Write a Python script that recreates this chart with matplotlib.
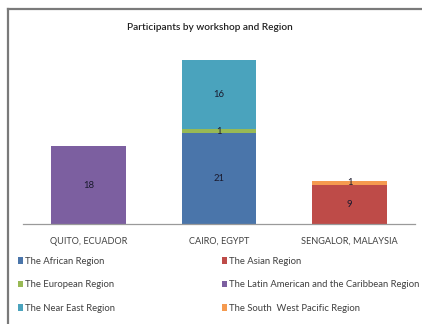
import matplotlib
matplotlib.use("Agg")
import matplotlib.pyplot as plt
from matplotlib.lines import Line2D
from matplotlib.patches import Patch
import numpy as np

categories = ["QUITO, ECUADOR", "CAIRO, EGYPT", "SENGALOR, MALAYSIA"]
series_names = ["The African Region", "The Asian Region", "The European Region",
                "The Latin American and the Caribbean Region", "The Near East Region",
                "The South  West Pacific Region"]
african = [0, 21, 0]
asian = [0, 0, 9]
european = [0, 1, 0]
latin = [18, 0, 0]
near_east = [0, 16, 0]
sw_pacific = [0, 0, 1]
series_values = [african, asian, european, latin, near_east, sw_pacific]
colors = ["#4a75aa", "#be4b48", "#98b954", "#7c5fa0", "#4aa3bd", "#f59a4f"]
title = "Participants by workshop and Region"

plt.rcParams['font.family'] = ['Lato', 'DejaVu Sans']

fig = plt.figure(figsize=(4.22, 3.24), dpi=100)
fig.patch.set_facecolor("white")
ax = fig.add_axes([23/422, 1-224/324, 392/422, 173/324])

x = np.arange(len(categories))
bottom = np.zeros(len(categories))
for vals, c in zip(series_values, colors):
    v = np.array(vals, dtype=float)
    ax.bar(x, v, 0.57, bottom=bottom, color=c, edgecolor="none")
    for xi, vi, bi in zip(x, v, bottom):
        if vi > 0:
            ax.text(xi, bi + vi/2, f"{int(vi)}", ha="center", va="center",
                    fontsize=6.8, color="#1a1a2e")
    bottom += v

ax.set_xlim(-0.5, 2.5)
ax.set_ylim(0, 40)
ax.set_xticks(x)
ax.set_xticklabels(categories, fontsize=6.6, color="#404040")
ax.tick_params(axis="x", length=0, pad=9)
ax.set_yticks([])
for s in ["top", "right", "left"]:
    ax.spines[s].set_visible(False)
ax.spines["bottom"].set_color("#9a9a9a")
ax.spines["bottom"].set_linewidth(0.9)

fig.text(210/422, 1-27/324, title, ha="center", va="center", fontsize=7.3,
         color="#222222", fontweight="semibold")

handles = [Patch(facecolor=c, edgecolor="none") for c in colors]
col1 = [0, 2, 4]
col2 = [1, 3, 5]
for idx, xpos in ((col1, 18/422), (col2, 222/422)):
    leg = fig.legend([handles[i] for i in idx], [series_names[i] for i in idx],
                     loc="upper left", bbox_to_anchor=(xpos, 1-257/324),
                     frameon=False, fontsize=6.8, labelspacing=1.52,
                     handlelength=0.5, handleheight=0.7, handletextpad=0.2,
                     borderpad=0, borderaxespad=0)
    for t in leg.get_texts():
        t.set_color("#404040")

fig.add_artist(Line2D([7.5/422, 7.5/422], [0, 1-8.5/324], color="#7a7a7a", lw=1.6,
                      transform=fig.transFigure))
fig.add_artist(Line2D([7.5/422, 1], [1-8.5/324, 1-8.5/324], color="#7a7a7a", lw=1.6,
                      transform=fig.transFigure))

fig.savefig("out.png", dpi=100, facecolor="white")
